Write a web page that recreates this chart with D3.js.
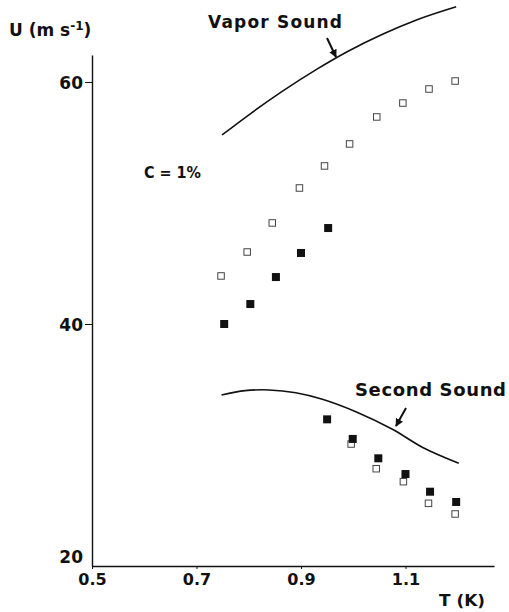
<!DOCTYPE html>
<html><head><meta charset="utf-8">
<script src="https://cdnjs.cloudflare.com/ajax/libs/d3/7.8.5/d3.min.js"></script>
<style>body{margin:0;background:#fff}text{font-family:"DejaVu Sans",Arial,sans-serif;font-weight:bold;fill:#111}</style>
</head><body><svg id="c" width="509" height="612"></svg>
<script>
// Open squares, upper branch (first sound, C = 1%)
const openUpperT = [0.747, 0.797, 0.845, 0.897, 0.945, 0.993, 1.045, 1.095, 1.145, 1.195];
const openUpperU = [43.97, 45.95, 48.35, 51.24, 53.06, 54.88, 57.11, 58.26, 59.42, 60.08];
// Filled squares, upper branch
const filledUpperT = [0.753, 0.803, 0.852, 0.90, 0.952];
const filledUpperU = [40.0, 41.65, 43.88, 45.87, 47.93];
// Filled squares, lower branch
const filledLowerT = [0.95, 0.999, 1.048, 1.10, 1.147, 1.197];
const filledLowerU = [32.12, 30.50, 28.90, 27.60, 26.14, 25.29];
// Open squares, lower branch
const openLowerT = [0.996, 1.044, 1.096, 1.144, 1.195];
const openLowerU = [30.08, 28.04, 26.97, 25.18, 24.30];
// Vapor sound curve
const vaporT = [0.749, 0.801, 0.864, 0.929, 0.992, 1.056, 1.121, 1.197];
const vaporU = [55.62, 57.31, 59.22, 61.02, 62.58, 63.94, 65.12, 66.21];
// Second sound curve
const secondT = [0.748, 0.793, 0.839, 0.890, 0.941, 1.005, 1.075, 1.133, 1.202];
const secondU = [34.13, 34.49, 34.55, 34.32, 33.78, 32.75, 31.30, 29.80, 28.49];
// Ticks
const xTicks = [0.5, 0.7, 0.9, 1.1];
const xTickLabels = ["0.5", "0.7", "0.9", "1.1"];
const yTicks = [20, 40, 60];

const svg = d3.select("#c");
const x = d3.scaleLinear().domain([0.5, 1.2694]).range([92, 494]);
const y = d3.scaleLinear().domain([20, 62.23]).range([566, 55]);
const FONT = "DejaVu Sans, Arial, sans-serif";

// axes
const ax = d3.axisBottom(x).tickValues(xTicks).tickFormat((d,i)=>xTickLabels[i]).tickSize(3).tickSizeOuter(0);
const gx = svg.append("g").attr("transform","translate(0,566)").call(ax);
gx.select(".domain").attr("stroke","#111").attr("stroke-width",1.4);
gx.selectAll(".tick line").attr("stroke","#111");
gx.selectAll(".tick text").attr("dy",null).attr("y",19).style("font-size","16px").style("font-family",FONT).style("font-weight","bold").attr("fill","#111");

const ay = d3.axisLeft(y).tickValues(yTicks).tickSize(7).tickSizeOuter(0).tickPadding(2);
const gy = svg.append("g").attr("transform","translate(92,0)").call(ay);
gy.select(".domain").attr("stroke","#111").attr("stroke-width",1.4);
gy.selectAll(".tick line").attr("stroke","#111");
gy.selectAll(".tick text").attr("dy","0.36em").style("font-size","17px").style("font-family",FONT).style("font-weight","bold").attr("fill","#111");
gy.selectAll(".tick").filter(d=>d===20).select("line").remove();
gy.selectAll(".tick").filter(d=>d===20).select("text").attr("y",-10);

// curves
const line = d3.line().x(d=>x(d[0])).y(d=>y(d[1])).curve(d3.curveMonotoneX);
svg.append("path").attr("d", line(d3.zip(vaporT, vaporU))).attr("fill","none").attr("stroke","#111").attr("stroke-width",1.6);
const line2 = d3.line().x(d=>x(d[0])).y(d=>y(d[1])).curve(d3.curveCatmullRom.alpha(0.5));
svg.append("path").attr("d", line2(d3.zip(secondT, secondU))).attr("fill","none").attr("stroke","#111").attr("stroke-width",1.6);

// squares
function squares(T, U, filled, s) {
  svg.append("g").selectAll("rect").data(d3.zip(T, U)).join("rect")
    .attr("x", d=>x(d[0])-s/2).attr("y", d=>y(d[1])-s/2).attr("width", s).attr("height", s)
    .attr("fill", filled ? "#111" : "#fff").attr("stroke", filled ? "none" : "#444").attr("stroke-width", 1);
}
squares(openUpperT, openUpperU, false, 6.5);
squares(openLowerT, openLowerU, false, 6.5);
squares(filledUpperT, filledUpperU, true, 8);
squares(filledLowerT, filledLowerU, true, 8);

// arrows
svg.append("defs").append("marker").attr("id","ah").attr("viewBox","0 0 10 10").attr("refX",9).attr("refY",5)
  .attr("markerWidth",4).attr("markerHeight",4).attr("orient","auto")
  .append("path").attr("d","M0,0 L10,5 L0,10 z").attr("fill","#111");
svg.append("line").attr("x1",327).attr("y1",38).attr("x2",336).attr("y2",57).attr("stroke","#111").attr("stroke-width",2).attr("marker-end","url(#ah)");
svg.append("line").attr("x1",406).attr("y1",408).attr("x2",396).attr("y2",426).attr("stroke","#111").attr("stroke-width",2).attr("marker-end","url(#ah)");

// labels
svg.append("text").attr("x",208).attr("y",28).style("font-size","17px").attr("textLength",134).attr("lengthAdjust","spacing").text("Vapor Sound");
svg.append("text").attr("x",355).attr("y",396).style("font-size","18px").attr("textLength",151).attr("lengthAdjust","spacing").text("Second Sound");
svg.append("text").attr("x",144).attr("y",178).style("font-size","15px").attr("textLength",57).attr("lengthAdjust","spacingAndGlyphs").text("C = 1%");
svg.append("text").attr("x",439).attr("y",606).style("font-size","16px").attr("textLength",46).attr("lengthAdjust","spacingAndGlyphs").text("T (K)");
const ul = svg.append("text").attr("x",9).attr("y",36).style("font-size","17px");
ul.append("tspan").text("U (m s");
ul.append("tspan").attr("dy",-6).style("font-size","12px").text("-1");
ul.append("tspan").attr("dy",6).text(")");
</script></body></html>
